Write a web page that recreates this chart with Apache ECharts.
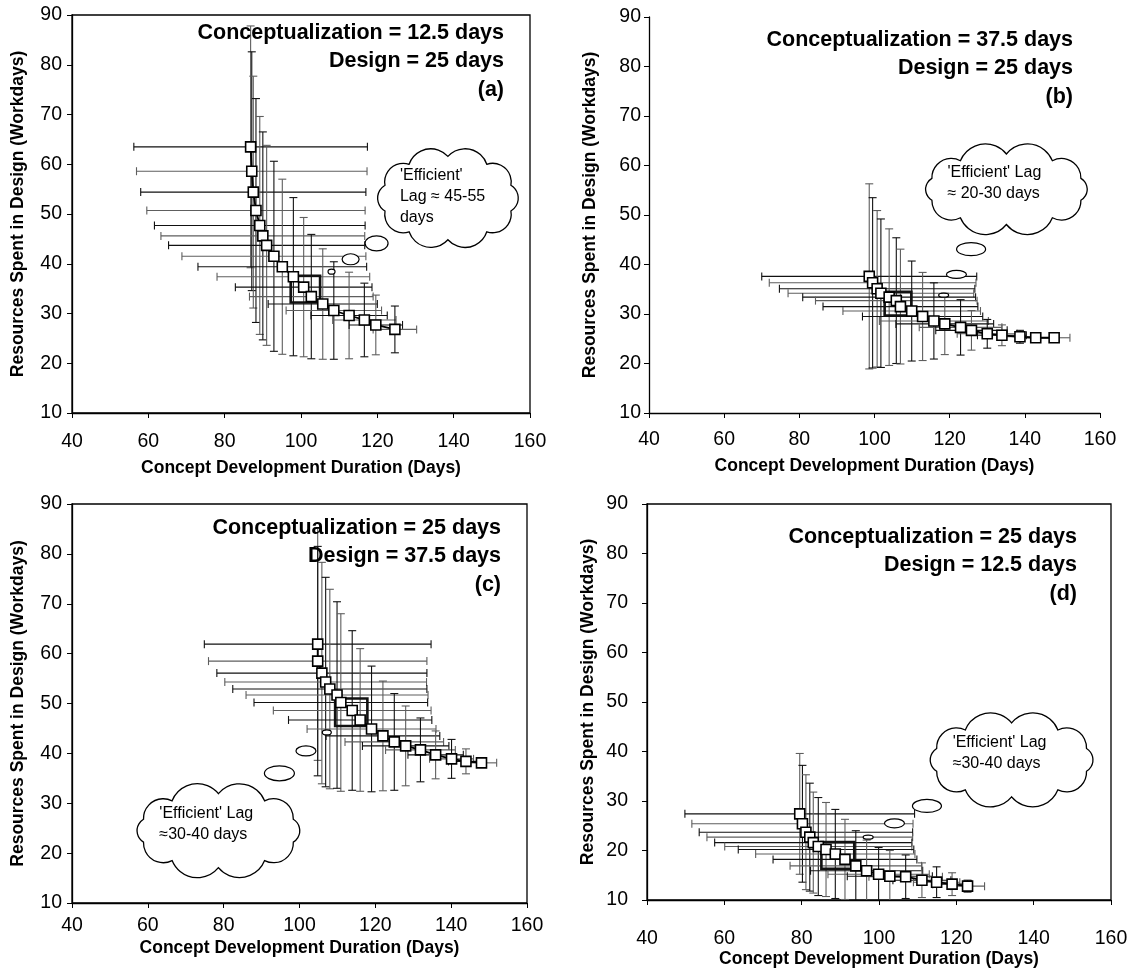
<!DOCTYPE html>
<html><head><meta charset="utf-8">
<script src="https://cdn.jsdelivr.net/npm/echarts@6/dist/echarts.min.js"></script>
<style>html,body{margin:0;padding:0;background:#fff}#c{width:1134px;height:971px}</style>
</head><body><div id="c"></div>
<script>
// ---------------- DATA ----------------
const xTicks = [40, 60, 80, 100, 120, 140, 160];
const yTicks = [10, 20, 30, 40, 50, 60, 70, 80, 90];

// Panel (a)
const aX    = [86.8, 87.1, 87.5, 88.2, 89.2, 90.0, 91.0, 92.9, 95.1, 98.0, 100.7, 102.7, 105.7, 108.6, 112.6, 116.6, 119.6, 124.6];
const aY    = [63.5, 58.6, 54.4, 50.7, 47.7, 45.6, 43.7, 41.5, 39.4, 37.4, 35.3, 33.4, 31.9, 30.6, 29.6, 28.7, 27.7, 26.8];
const aXErr = [30.6, 30.2, 29.5, 28.6, 27.6, 26.7, 25.7, 24.1, 22.1, 20.0, 17.9, 16.2, 14.3, 12.5, 10.0, 8.3, 7.0, 5.7];
const aYErr = [24.3, 24.0, 23.3, 22.5, 21.9, 20.9, 20.1, 19.1, 17.6, 15.9, 14.0, 12.5, 11.1, 9.8, 8.7, 7.4, 6.0, 4.7];
const aBox  = [97.3, 105.0, 32.2, 37.6];
const aTitle = ["Conceptualization = 12.5 days", "Design = 25 days", "(a)"];
const aCloudText = ["'Efficient'", "Lag \u2248 45-55", "days"];

// Panel (b)
const bX    = [98.6, 99.5, 100.7, 101.7, 103.9, 105.8, 106.9, 109.9, 112.8, 115.8, 118.7, 122.9, 125.8, 130.0, 133.9, 138.7, 142.9, 147.8];
const bY    = [37.6, 36.3, 35.1, 34.2, 33.4, 32.7, 31.5, 30.6, 29.5, 28.6, 28.0, 27.3, 26.7, 26.0, 25.7, 25.4, 25.2, 25.2];
const bXErr = [28.6, 27.5, 26.0, 24.7, 23.0, 21.5, 20.6, 18.3, 16.0, 14.5, 13.0, 11.0, 9.5, 8.0, 6.5, 5.5, 4.8, 4.2];
const bYErr = [18.7, 17.2, 15.8, 15.0, 13.8, 12.7, 11.6, 10.1, 8.9, 7.7, 6.2, 5.6, 4.0, 2.9, 2.1, 1.3, 0.9, 0.6];
const bBox  = [102.7, 109.8, 29.7, 34.5];
const bTitle = ["Conceptualization = 37.5 days", "Design = 25 days", "(b)"];
const bCloudText = ["'Efficient' Lag", "\u2248 20-30 days"];

// Panel (c)
const cX    = [104.8, 104.8, 105.9, 106.9, 108.0, 109.9, 110.9, 113.9, 116.0, 119.0, 122.0, 125.0, 128.0, 131.9, 135.9, 140.1, 143.9, 148.0];
const cY    = [61.9, 58.5, 56.1, 54.3, 52.9, 51.7, 50.2, 48.6, 46.7, 44.9, 43.5, 42.3, 41.5, 40.7, 39.7, 38.9, 38.4, 38.1];
const cXErr = [29.9, 28.8, 27.7, 26.6, 25.6, 24.0, 22.9, 20.8, 18.9, 17.0, 15.0, 13.0, 11.4, 9.2, 7.3, 5.8, 4.6, 4.0];
const cYErr = [23.3, 23.0, 22.2, 21.0, 20.0, 18.7, 17.8, 16.0, 14.3, 12.6, 11.0, 9.7, 8.0, 6.4, 4.8, 3.9, 2.5, 0.9];
const cBox  = [109.4, 117.9, 45.5, 51.0];
const cTitle = ["Conceptualization = 25 days", "Design = 37.5 days", "(c)"];
const cCloudText = ["'Efficient' Lag", "\u224830-40 days"];

// Panel (d)
const dX    = [79.5, 80.2, 81.1, 82.1, 83.0, 84.3, 86.3, 88.7, 91.2, 94.0, 96.8, 99.9, 102.8, 106.9, 111.1, 114.9, 118.9, 122.9];
const dY    = [27.4, 25.4, 23.7, 22.7, 21.6, 20.8, 20.2, 19.3, 18.2, 16.9, 15.9, 15.2, 14.8, 14.7, 14.0, 13.6, 13.2, 12.8];
const dXErr = [29.7, 28.6, 27.6, 26.6, 25.5, 24.2, 22.7, 20.6, 18.6, 17.0, 14.5, 13.1, 11.0, 9.5, 7.5, 6.0, 5.0, 4.4];
const dYErr = [12.2, 11.8, 11.6, 10.9, 10.2, 9.9, 9.5, 9.0, 8.1, 7.1, 6.2, 5.4, 5.2, 4.4, 3.5, 3.1, 2.3, 1.2];
const dBox  = [85.1, 93.6, 16.3, 21.7];
const dTitle = ["Conceptualization = 25 days", "Design = 12.5 days", "(d)"];
const dCloudText = ["'Efficient' Lag", "\u224830-40 days"];

const xName = "Concept Development Duration (Days)";
const yName = "Resources Spent in Design (Workdays)";

// ---------------- LAYOUT (not data) ----------------
const FONT = "'Liberation Sans', Arial, Helvetica, sans-serif";
const layout = [
  {grid:{left:72, top:15, width:458, height:398}, border:true, xMargin:19, xGap:46, yMargin:10, yGap:45,
   title:{x:504, y:19}, cloud:{at:[138.5,53.2], w:147, h:97, tx:-48, ty:-33},
   bubbles:[[119.8,44.1,23,15],[113.0,40.9,17,11],[108.0,38.4,7,5]]},
  {grid:{left:649, top:17, width:451, height:396}, border:false, xMargin:17, xGap:44, yMargin:8, yGap:50,
   title:{x:1073, y:26}, cloud:{at:[135.1,55.2], w:174, h:82, tx:-59, ty:-27},
   bubbles:[[125.7,43.1,29,13],[121.8,38.0,20,8],[118.4,33.8,10,4]]},
  {grid:{left:72, top:504, width:455, height:399}, border:true, xMargin:13, xGap:36, yMargin:10, yGap:45,
   title:{x:501, y:514}, cloud:{at:[78.6,24.5], w:175, h:86, tx:-59, ty:-28},
   bubbles:[[94.7,36.0,30,15],[101.7,40.5,20,10],[107.2,44.2,9,5]]},
  {grid:{left:647, top:504, width:464, height:396}, border:true, xMargin:29, xGap:49, yMargin:19, yGap:50,
   title:{x:1077, y:523}, cloud:{at:[134.3,38.3], w:175, h:86, tx:-59, ty:-28},
   bubbles:[[112.4,29.0,29,13],[104.0,25.5,20,9],[97.2,22.7,10,4]]}
];

const panels = [
  {xs:aX, ys:aY, xe:aXErr, ye:aYErr, box:aBox, title:aTitle, cloudText:aCloudText},
  {xs:bX, ys:bY, xe:bXErr, ye:bYErr, box:bBox, title:bTitle, cloudText:bCloudText},
  {xs:cX, ys:cY, xe:cXErr, ye:cYErr, box:cBox, title:cTitle, cloudText:cCloudText},
  {xs:dX, ys:dY, xe:dXErr, ye:dYErr, box:dBox, title:dTitle, cloudText:dCloudText}
];

function cloudPath(cx, cy, w, h, n){
  const rx = w/2*0.90, ry = h/2*0.86;
  const pts = [];
  for (let k=0;k<n;k++){
    const th = -Math.PI/2 + 2*Math.PI*k/n;
    pts.push([cx + rx*Math.cos(th), cy + ry*Math.sin(th)]);
  }
  let d = 'M' + pts[0][0].toFixed(1) + ' ' + pts[0][1].toFixed(1);
  for (let k=0;k<n;k++){
    const a = pts[k], b = pts[(k+1)%n];
    const c = Math.hypot(b[0]-a[0], b[1]-a[1]);
    const r = c*0.58;
    d += ' A' + r.toFixed(1) + ' ' + r.toFixed(1) + ' 0 0 1 ' + b[0].toFixed(1) + ' ' + b[1].toFixed(1);
  }
  return d + ' Z';
}

const chart = echarts.init(document.getElementById('c'), null, {renderer:'canvas'});

const grids = [], xAxes = [], yAxes = [], series = [];
panels.forEach((p, i) => {
  const L = layout[i];
  grids.push(Object.assign({show: L.border, borderColor:'#000', borderWidth:1.3, backgroundColor:'transparent'}, L.grid));
  xAxes.push({
    gridIndex:i, type:'value', min:xTicks[0], max:xTicks[xTicks.length-1], interval:xTicks[1]-xTicks[0],
    name:xName, nameLocation:'middle', nameGap:L.xGap,
    nameTextStyle:{fontFamily:FONT, fontWeight:'bold', fontSize:17.5, color:'#000'},
    axisLine:{show:true, onZero:false, lineStyle:{color:'#000', width:1.3}},
    axisTick:{show:true, inside:false, length:5, lineStyle:{color:'#000', width:1}},
    axisLabel:{fontFamily:FONT, fontSize:19.5, color:'#000', margin:L.xMargin},
    splitLine:{show:false}
  });
  yAxes.push({
    gridIndex:i, type:'value', min:yTicks[0], max:yTicks[yTicks.length-1], interval:yTicks[1]-yTicks[0],
    name:yName, nameLocation:'middle', nameGap:L.yGap,
    nameTextStyle:{fontFamily:FONT, fontWeight:'bold', fontSize:17.5, color:'#000'},
    axisLine:{show:true, onZero:false, lineStyle:{color:'#000', width:1.3}},
    axisTick:{show:true, inside:false, length:5, lineStyle:{color:'#000', width:1}},
    axisLabel:{fontFamily:FONT, fontSize:19.5, color:'#000', margin:L.yMargin},
    splitLine:{show:false}
  });
  // error bars
  series.push({
    type:'custom', xAxisIndex:i, yAxisIndex:i, z:2, clip:true, silent:true,
    data: p.xs.map((x,k) => [x, p.ys[k], p.xe[k], p.ye[k]]),
    encode:{x:0, y:1},
    renderItem: function(params, api){
      const x = api.value(0), y = api.value(1), ex = api.value(2), ey = api.value(3);
      const l = api.coord([x-ex, y]), r = api.coord([x+ex, y]);
      const t = api.coord([x, y+ey]), b = api.coord([x, y-ey]);
      const k = params.dataIndex;
      const hc = k % 2 ? '#5e5e5e' : '#111';
      const vc = k % 2 ? '#111' : '#5e5e5e';
      const cap = 4;
      const ln = (x1,y1,x2,y2,c) => ({type:'line', shape:{x1,y1,x2,y2}, style:{stroke:c, lineWidth:1.1}});
      return {type:'group', children:[
        ln(l[0], l[1], r[0], r[1], hc),
        ln(l[0], l[1]-cap, l[0], l[1]+cap, hc),
        ln(r[0], r[1]-cap, r[0], r[1]+cap, hc),
        ln(t[0], t[1], b[0], b[1], vc),
        ln(t[0]-cap, t[1], t[0]+cap, t[1], vc),
        ln(b[0]-cap, b[1], b[0]+cap, b[1], vc)
      ]};
    }
  });
  // highlight box
  series.push({
    type:'custom', xAxisIndex:i, yAxisIndex:i, z:3, silent:true,
    data:[p.box], encode:{x:[0,1], y:[2,3]},
    renderItem: function(params, api){
      const p0 = api.coord([api.value(0), api.value(3)]);
      const p1 = api.coord([api.value(1), api.value(2)]);
      return {type:'rect', shape:{x:p0[0], y:p0[1], width:p1[0]-p0[0], height:p1[1]-p0[1]},
              style:{fill:'none', stroke:'#111', lineWidth:2.6}};
    }
  });
  // main line with square markers
  series.push({
    type:'line', xAxisIndex:i, yAxisIndex:i, z:4, silent:true,
    data: p.xs.map((x,k) => [x, p.ys[k]]),
    symbol:'rect', symbolSize:10, showSymbol:true,
    lineStyle:{color:'#000', width:1.8},
    itemStyle:{color:'#fff', borderColor:'#000', borderWidth:1.6},
    animation:false
  });
  // thought-bubble annotation (cloud + small ellipses + text), anchored in data coords
  series.push({
    type:'custom', xAxisIndex:i, yAxisIndex:i, z:10, silent:true, clip:false,
    data:[L.cloud.at], encode:{x:0, y:1},
    renderItem: function(params, api){
      const c = api.coord([api.value(0), api.value(1)]);
      const kids = [];
      L.bubbles.forEach(bb => {
        const q = api.coord([bb[0], bb[1]]);
        kids.push({type:'ellipse', shape:{cx:q[0], cy:q[1], rx:bb[2]/2, ry:bb[3]/2},
                   style:{fill:'#fff', stroke:'#000', lineWidth:1.2}});
      });
      kids.push({type:'path', shape:{pathData:cloudPath(c[0], c[1], L.cloud.w, L.cloud.h, 10)},
                 style:{fill:'#fff', stroke:'#000', lineWidth:1.3}});
      kids.push({type:'text', x:c[0]+L.cloud.tx, y:c[1]+L.cloud.ty,
                 style:{text:p.cloudText.join('\n'), fill:'#000', font:'16px ' + FONT,
                        align:'left', verticalAlign:'top', lineHeight:21}});
      return {type:'group', children:kids};
    }
  });
});

const graphics = panels.map((p, i) => ({
  type:'text', z:10, x:layout[i].title.x, y:layout[i].title.y,
  style:{text:p.title.join('\n'), fill:'#000', font:'bold 21.5px ' + FONT,
         textAlign:'right', textVerticalAlign:'top', lineHeight:28.3}
}));

chart.setOption({
  animation:false,
  grid:grids, xAxis:xAxes, yAxis:yAxes, series:series, graphic:graphics
});
</script>
</body></html>
